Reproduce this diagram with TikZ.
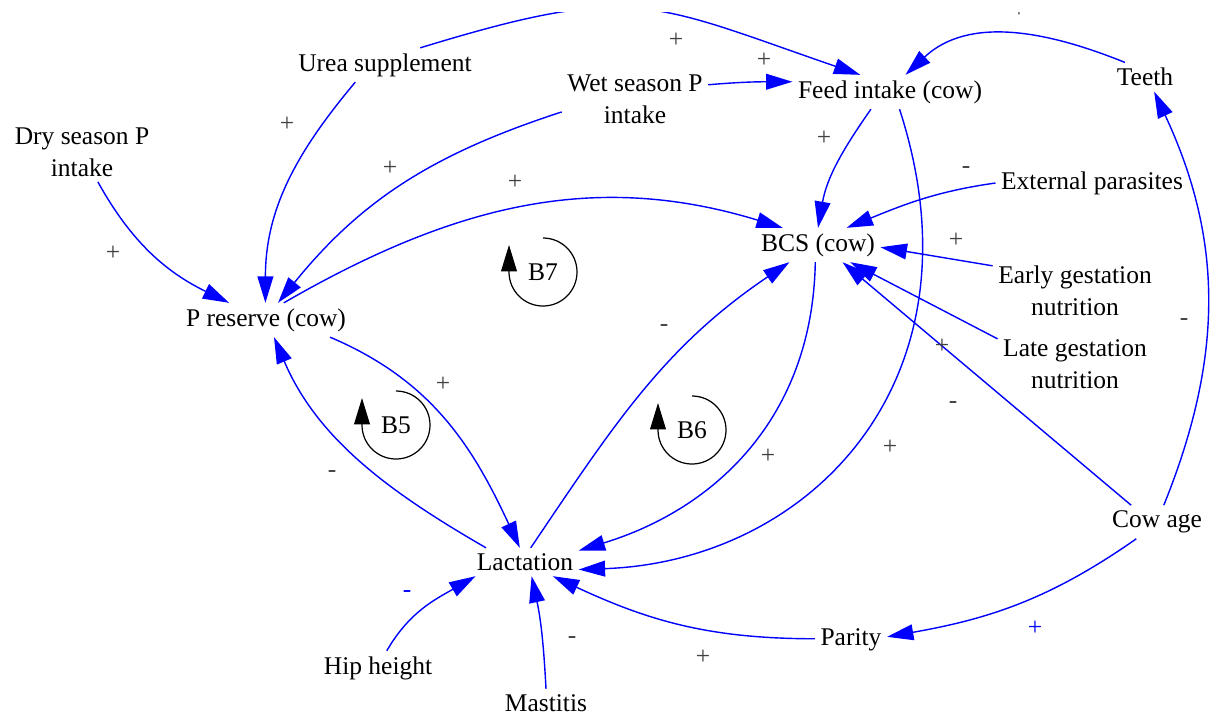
\documentclass[tikz,border=0pt]{standalone}
\usepackage{fontspec}
\setmainfont{Liberation Serif}
\usepackage{tikz}
\usetikzlibrary{arrows.meta}
\definecolor{cldblue}{RGB}{0,0,255}
\definecolor{cldsign}{RGB}{64,64,64}

\begin{document}
\begin{tikzpicture}[x=0.02cm,y=0.02cm,
  var/.style={align=center,inner sep=3pt,font=\fontsize{14.5}{18}\selectfont},
  sign/.style={inner sep=0pt,text=cldsign,font=\fontsize{14.5}{18}\selectfont},
  bluesign/.style={sign,text=cldblue},
  link/.style={cldblue,line width=0.8pt,-{Triangle[length=15pt,width=9pt]}},
  loopline/.style={black,line width=0.7pt,-{Triangle[length=15pt,width=9pt]}}]
  \useasboundingbox (0,0) rectangle (1213,-718);
  \clip (0,-12) rectangle (1213,-718);
  % variables
  \node[var] (dry) at (82,-152) {Dry season P\\intake};
  \node[var] (urea) at (385,-65) {Urea supplement};
  \node[var] (wet) at (635,-99) {Wet season P\\intake};
  \node[var] (feed) at (890,-92) {Feed intake (cow)};
  \node[var] (teeth) at (1145,-77) {Teeth};
  \node[var] (ext) at (1092,-183) {External parasites};
  \node[var] (bcs) at (818,-245) {BCS (cow)};
  \node[var] (early) at (1075,-291) {Early gestation\\nutrition};
  \node[var] (late) at (1075,-364) {Late gestation\\nutrition};
  \node[var] (preserve) at (266,-320) {P reserve (cow)};
  \node[var] (lact) at (525,-562) {Lactation};
  \node[var] (cowage) at (1157,-522) {Cow age};
  \node[var] (parity) at (851,-640) {Parity};
  \node[var] (hip) at (378,-668) {Hip height};
  \node[var] (mast) at (546,-703) {Mastitis};
  % causal links
  \draw[link] (urea.26) to[out=17,in=161,looseness=1.3] (feed.150);
  \draw[link] (wet.11) to[out=5,in=180] (feed.174);
  \draw[link] (teeth.144) to[out=158,in=43] (feed.48);
  \draw[link] (cowage.68) to[out=68,in=-65] (teeth.-58);
  \draw[link] (feed.-138) to[out=-125,in=80] (bcs.90);
  \draw[link] (feed.-61) to[out=-72,in=2,out looseness=1.3,in looseness=1.05] (lact.-8);
  \draw[link] (ext.180) to[out=188,in=22] (bcs.31);
  \draw[link] (early.163) -- (bcs.-2);
  \draw[link] (late.162) -- (bcs.-28);
  \draw[link] (cowage.147) -- (bcs.-35);
  \draw[link] (preserve.44) to[out=30,in=163] (bcs.154);
  \draw[link] (dry.-62) to[out=-61,in=154] (preserve.155);
  \draw[link] (urea.-150) to[out=-130,in=90] (preserve.92);
  \draw[link] (wet.190) to[out=198,in=51] (preserve.55);
  \draw[link] (preserve.-15) to[out=-23,in=115] (lact.110);
  \draw[link] (lact.160) to[out=150,in=-67,looseness=0.95] (preserve.-65);
  \draw[link] (lact.68) to[out=56,in=-146] (bcs.-149);
  \draw[link] (bcs.-99) to[out=-91,in=17,out looseness=1.07,in looseness=0.97] (lact.12);
  \draw[link] (cowage.-141) to[out=-145,in=10] (parity.5);
  \draw[link] (parity.178) to[out=180,in=-25] (lact.-27);
  \draw[link] (hip.63) to[out=60,in=-150] (lact.-164);
  \draw[link] (mast.90) to[out=93,in=-78] (lact.-65);
  % polarities
  \node[sign] (sUreaFeed) at (676,-40) {+};
  \node[sign] (sWetFeed) at (764,-60) {+};
  \node[sign] (sTeethFeed) at (1019,-10) {+};
  \node[sign] (sUreaRes) at (287,-124) {+};
  \node[sign] (sWetRes) at (390,-168) {+};
  \node[sign] (sDryRes) at (113,-253) {+};
  \node[sign] (sResBcs) at (515,-182) {+};
  \node[sign] (sFeedBcs) at (824,-138) {+};
  \node[sign] (sExtBcs) at (966,-170) {-};
  \node[sign] (sEarlyBcs) at (956,-240) {+};
  \node[sign] (sLateBcs) at (942,-346) {+};
  \node[sign] (sAgeBcs) at (953,-405) {-};
  \node[sign] (sAgeTeeth) at (1184,-322) {-};
  \node[sign] (sResLact) at (443,-384) {+};
  \node[sign] (sLactRes) at (332,-474) {-};
  \node[sign] (sLactBcs) at (664,-328) {-};
  \node[sign] (sBcsLact) at (768,-456) {+};
  \node[sign] (sFeedLact) at (890,-447) {+};
  \node[bluesign] (sHipLact) at (407,-594) {-};
  \node[sign] (sMastLact) at (572,-640) {-};
  \node[sign] (sParLact) at (703,-657) {+};
  \node[bluesign] (sAgePar) at (1035,-628) {+};
  % loop markers
  \foreach \lx/\ly/\lname in {543/272/B7,396/425/B5,692/430/B6}{
    \node[var] (\lname) at (\lx,-\ly) {\lname};
    \draw[loopline] (\lx,-\ly) ++(90:34) arc[start angle=90,end angle=-180,radius=34] -- ++(0,27);
  }
\end{tikzpicture}
\end{document}
